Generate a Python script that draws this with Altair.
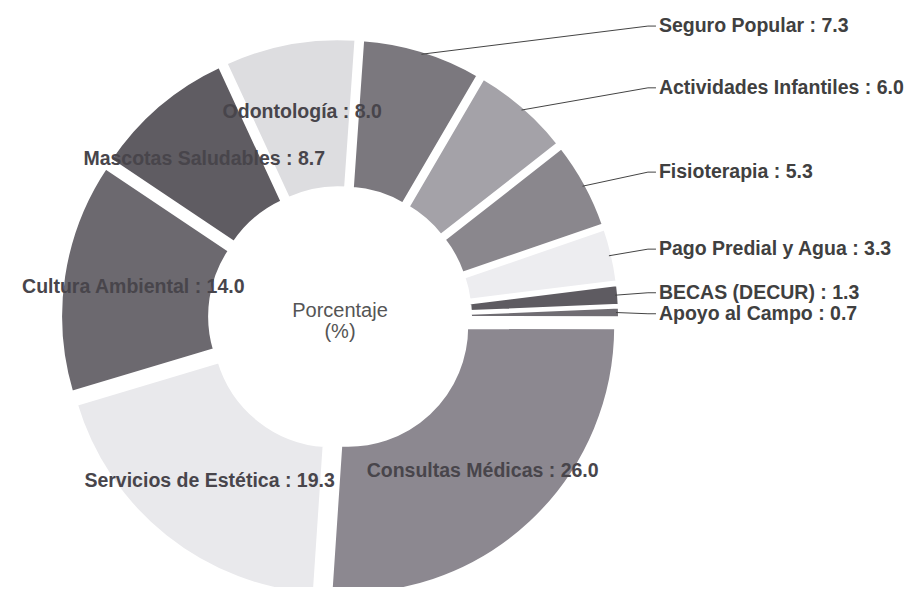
import math
import altair as alt
import pandas as pd

# ---- data ----
categories = [
    "Seguro Popular", "Actividades Infantiles", "Fisioterapia",
    "Pago Predial y Agua", "BECAS (DECUR)", "Apoyo al Campo",
    "Consultas Médicas", "Servicios de Estética", "Cultura Ambiental",
    "Mascotas Saludables", "Odontología",
]
values = [7.3, 6.0, 5.3, 3.3, 1.3, 0.7, 26.0, 19.3, 14.0, 8.7, 8.0]
center_text = ["Porcentaje", "(%)"]

# ---- styles ----
colors = [
    "#7b787e", "#a4a2a8", "#8a878d", "#ededf0", "#5e5b61", "#706d73",
    "#8c8890", "#e9e9ec", "#6c696f", "#5f5c62", "#dddde0",
]
FONT = "Liberation Sans"

# ---- layout ----
W, H = 900, 579
CX, CY = 332, 310          # pie centre inside the plot area (px)
R_PX = 268                 # outer radius (px) = 1 data unit
INNER_PX = 118
EXPLODE = 12 / R_PX        # slice separation, data units
ROT = math.radians(4)      # angle of first slice
IN_LABEL_R = 0.78
LEAD_START_R = 1.03
LABEL_Y_K = 1.14
MIN_GAP = 21 / R_PX        # minimum vertical spacing of outside labels
ELBOW_X = 1.149
LEAD_END_X = 1.179
TEXT_X = 1.19
SMALL = 7.5                # slices below this get outside labels

total = sum(values)
rows, inner, outer_tmp = [], [], []
cum = 0.0
for i, (n, v) in enumerate(zip(categories, values)):
    a = ROT + 2 * math.pi * (cum + v / 2) / total
    s, c = math.sin(a), math.cos(a)
    rows.append(dict(name=n, start=cum, end=cum + v,
                     cx=EXPLODE * s, cy=EXPLODE * c))
    label = f"{n} : {v:.1f}"
    if v >= SMALL:
        inner.append(dict(name=n, x=IN_LABEL_R * s, y=IN_LABEL_R * c, text=label))
    else:
        outer_tmp.append(dict(name=n, s=s, c=c, y=LABEL_Y_K * c, text=label))
    cum += v

# spread outside labels so they never overlap (top to bottom)
outer_tmp.sort(key=lambda r: -r["y"])
for j in range(1, len(outer_tmp)):
    outer_tmp[j]["y"] = min(outer_tmp[j]["y"], outer_tmp[j - 1]["y"] - MIN_GAP)

outer, lines = [], []
for r in outer_tmp:
    outer.append(dict(name=r["name"], x=TEXT_X, y=r["y"], text=r["text"]))
    lines.append(dict(name=r["name"], k=0, x=LEAD_START_R * r["s"], y=LEAD_START_R * r["c"]))
    lines.append(dict(name=r["name"], k=1, x=ELBOW_X, y=r["y"]))
    lines.append(dict(name=r["name"], k=2, x=LEAD_END_X, y=r["y"]))

df = pd.DataFrame(rows)
df_in = pd.DataFrame(inner)
df_out = pd.DataFrame(outer)
df_lines = pd.DataFrame(lines)

xs = alt.Scale(domain=[-CX / R_PX, (W - CX) / R_PX], nice=False, zero=False)
ys = alt.Scale(domain=[-(H - CY) / R_PX, CY / R_PX], nice=False, zero=False)

arcs = alt.Chart(df).mark_arc(
    outerRadius=R_PX, innerRadius=INNER_PX, stroke="white", strokeWidth=4
).encode(
    x=alt.X("cx:Q", scale=xs, axis=None),
    y=alt.Y("cy:Q", scale=ys, axis=None),
    theta=alt.Theta("start:Q", scale=alt.Scale(domain=[0, total],
                                               range=[ROT, ROT + 2 * math.pi])),
    theta2="end:Q",
    color=alt.Color("name:N", scale=alt.Scale(domain=categories, range=colors),
                    legend=None),
)

in_text = alt.Chart(df_in).mark_text(
    font=FONT, fontSize=19.5, fontWeight="bold", color="#48454b",
    align="center", baseline="middle"
).encode(
    x=alt.X("x:Q", scale=xs, axis=None),
    y=alt.Y("y:Q", scale=ys, axis=None),
    text="text:N",
)

leaders = alt.Chart(df_lines).mark_line(color="#444444", strokeWidth=1).encode(
    x=alt.X("x:Q", scale=xs, axis=None),
    y=alt.Y("y:Q", scale=ys, axis=None),
    detail="name:N",
    order="k:Q",
)

out_text = alt.Chart(df_out).mark_text(
    font=FONT, fontSize=19.5, fontWeight="bold", color="#404040",
    align="left", baseline="middle"
).encode(
    x=alt.X("x:Q", scale=xs, axis=None),
    y=alt.Y("y:Q", scale=ys, axis=None),
    text="text:N",
)

centre = alt.Chart(pd.DataFrame({"x": [0.0], "y": [0.0]})).mark_text(
    text=center_text, font=FONT, fontSize=20, color="#555555",
    align="center", baseline="middle", lineHeight=21, dy=-7
).encode(
    x=alt.X("x:Q", scale=xs, axis=None),
    y=alt.Y("y:Q", scale=ys, axis=None),
)

chart = alt.layer(arcs, leaders, in_text, out_text, centre).properties(
    width=W, height=H, padding=0, autosize=alt.AutoSizeParams(type="none")
).configure_view(stroke=None)

chart.save("out.html", embed_options={"renderer": "svg", "actions": False})
